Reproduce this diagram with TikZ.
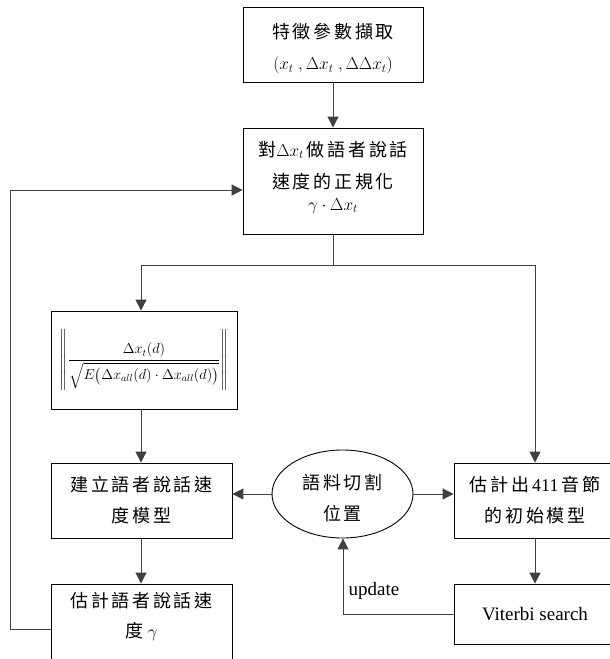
\documentclass[tikz,border=0pt]{standalone}
\usepackage{amsmath}
\usepackage{fontspec}
\setmainfont{Liberation Serif}
\newfontfamily\cjk[LetterSpace=15]{Noto Sans CJK TC}
\usetikzlibrary{arrows.meta,shapes.geometric}
\tikzset{
  box/.style={draw=black, line width=0.9pt, rectangle, inner sep=0pt, align=center,
    font=\fontsize{18}{31}\selectfont},
  lbl/.style={inner sep=0pt, align=center, font=\fontsize{18}{30}\selectfont},
  conn/.style={draw=black!75, line width=1pt},
  arr/.style={conn, -{Triangle[width=11pt,length=11pt]}},
}
\begin{document}
\begin{tikzpicture}[x=1pt,y=-1pt]
\useasboundingbox[fill=white] (0,0) rectangle (610,659);
\begin{scope}
\clip (0,0) rectangle (610,659);
\node[box, minimum width=180pt, minimum height=75pt] (feat) at (333,44.5)
  {\rule{0pt}{24pt}{\cjk 特徵參數擷取}\\$(x_t\ ,\Delta x_t\ ,\Delta\Delta x_t)$};
\node[box, minimum width=180pt, minimum height=106pt] (norm) at (333,181)
  {{\cjk 對}$\Delta x_t$\,{\cjk 做語者說話}\\[1pt]{\cjk 速度的正規化}\\[-9pt]$\gamma\cdot\Delta x_t$\rule[-11pt]{0pt}{0pt}};
\node[box, minimum width=186pt, minimum height=98pt, font=\fontsize{14.5}{17}\selectfont] (form) at (144,360)
  {$\left\|\dfrac{\Delta x_t(d)}{\sqrt{E\bigl(\Delta x_{all}(d)\cdot\Delta x_{all}(d)\bigr)}}\right\|$};
\node[box, minimum width=181pt, minimum height=75pt] (build) at (141.5,500.5)
  {{\cjk 建立語者說話速}\\{\cjk 度模型}};
\node[box, minimum width=181pt, minimum height=80pt] (est) at (141.5,624) {};
\node[lbl, anchor=north] (estt) at (141.5,592)
  {{\cjk 估計語者說話速}\\{\cjk 度}~$\gamma$};
\node[box, ellipse, minimum width=141pt, minimum height=88pt] (seg) at (342.5,494)
  {\rule{0pt}{24pt}{\cjk 語料切割}\\{\cjk 位置}};
\node[box, minimum width=162pt, minimum height=75pt] (init) at (535,500.5)
  {{\cjk 估計出}\,411\,{\cjk 音節}\\{\cjk 的初始模型}};
\node[box, minimum width=162pt, minimum height=60pt, font=\fontsize{19}{22}\selectfont] (vit) at (535,614)
  {Viterbi search};
\coordinate (split) at (333,265);
\coordinate (sl) at (141,265);
\coordinate (sr) at (535,265);
\coordinate (fbl) at (10,629);
\coordinate (ftl) at (10,190);
\coordinate (ub) at (343,614);
\draw[arr] (feat) -- (norm);
\draw[conn] (norm.south) -- (split);
\draw[conn] (sl) -- (sr);
\draw[arr] (sl) -- (sl |- form.north);
\draw[arr] (sr) -- (init.north);
\draw[arr] (sl |- form.south) -- (sl |- build.north);
\draw[arr] (sl |- build.south) -- (sl |- est.north);
\draw[arr] (seg.west) -- (build.east |- seg.west);
\draw[arr] (seg.east) -- (init.west |- seg.east);
\draw[arr] (init.south) -- (vit.north);
\draw[arr] (est.west |- fbl) -- (fbl) -- (ftl) -- (norm.west |- ftl);
\draw[arr] (vit.west) -- (ub) -- (seg.south -| ub);
\node[font=\fontsize{19}{22}\selectfont, inner sep=0pt] (upd) at (374,591) {update};
\end{scope}
\end{tikzpicture}
\end{document}
